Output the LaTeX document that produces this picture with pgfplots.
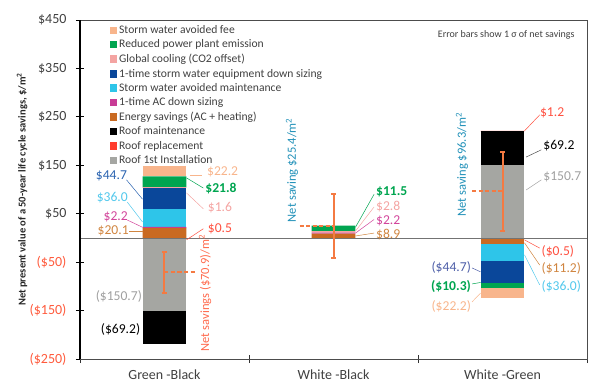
\documentclass[border=0pt]{standalone}
\usepackage{pgfplots}
\pgfplotsset{compat=1.18}
\usepackage{fontspec}
\setmainfont{Carlito}
\definecolor{cfee}{HTML}{F8B58C}
\definecolor{cpower}{HTML}{00A550}
\definecolor{cglobal}{HTML}{F4A4A2}
\definecolor{cequip}{HTML}{0A479A}
\definecolor{cmaint}{HTML}{2EC5E9}
\definecolor{cac}{HTML}{C83C96}
\definecolor{cenergy}{HTML}{C96A22}
\definecolor{croofm}{HTML}{000000}
\definecolor{crepl}{HTML}{FF3C2E}
\definecolor{cinst}{HTML}{A5A6A2}
\definecolor{cerr}{HTML}{F47A42}
\definecolor{tblue}{HTML}{2A63B0}
\definecolor{tcyan}{HTML}{52C8EC}
\definecolor{tmag}{HTML}{D2449A}
\definecolor{tbrown}{HTML}{D08540}
\definecolor{tpeach}{HTML}{F8B58C}
\definecolor{tgreen}{HTML}{00A550}
\definecolor{tpink}{HTML}{F4A4A2}
\definecolor{tred}{HTML}{FF5040}
\definecolor{tgray}{HTML}{A0A0A0}
\definecolor{tslate}{HTML}{4E5FA8}
\definecolor{tteal}{HTML}{2090B8}
\definecolor{tnet}{HTML}{FF6A4D}
\definecolor{negcol}{HTML}{FF5A3C}
\definecolor{poscol}{HTML}{404040}
\newcommand\vl{\fontsize{13.6}{15}\selectfont}
\pgfplotsset{
  base/.style={width=507pt,height=339pt,scale only axis,
    xmin=-0.5,xmax=2.5,ymin=-250,ymax=450,
    at={(0pt,0pt)},anchor=south west},
  segs/.style={base,hide axis,ybar stacked,bar width=0.26},
  seg/.style={fill=#1,draw=none},
  eb/.style={color=cerr,line width=2pt,mark=none},
}
\begin{document}
\begin{tikzpicture}
\path[use as bounding box] (-80pt,-32pt) rectangle (520pt,359pt);
% frame, ticks, legend
\begin{axis}[base,
  axis line style={draw=black!70,line width=0.9pt},
  tick align=center,
  xtick={0,1,2},
  xticklabels={Green -Black,White -Black,White -Green},
  major x tick style={draw=none},
  minor xtick={-0.5,0.5,1.5,2.5},
  minor tick length=8pt,
  minor x tick style={draw=black!80,line width=0.9pt},
  xtick pos=bottom, ytick pos=left,
  ytick={-250,-150,-50,50,150,250,350,450},
  yticklabels={{\color{negcol}(\$250)},{\color{negcol}(\$150)},{\color{negcol}(\$50)},{\color{poscol}\$50},{\color{poscol}\$150},{\color{poscol}\$250},{\color{poscol}\$350},{\color{poscol}\$450}},
  major tick length=8pt,
  major y tick style={draw=black,line width=0.9pt},
  yticklabel style={font=\fontsize{14}{16}\selectfont,xshift=-6pt},
  xticklabel style={font=\fontsize{14}{16}\selectfont,text=poscol,yshift=-3pt},
  /pgf/number format/assume math mode=true,
  legend style={at={(0.052,0.996)},anchor=north west,draw=none,fill=none,
    font=\fontsize{11.6}{13}\selectfont,row sep=0.8pt,text=poscol},
  legend cell align=left,
  legend image code/.code={\fill[#1] (0pt,-3.8pt) rectangle (7.6pt,3.8pt);},
]
\addlegendimage{fill=cfee,draw=none}\addlegendentry{Storm water avoided fee}
\addlegendimage{fill=cpower,draw=none}\addlegendentry{Reduced power plant emission}
\addlegendimage{fill=cglobal,draw=none}\addlegendentry{Global cooling (CO2 offset)}
\addlegendimage{fill=cequip,draw=none}\addlegendentry{1-time storm water equipment down sizing}
\addlegendimage{fill=cmaint,draw=none}\addlegendentry{Storm water avoided maintenance}
\addlegendimage{fill=cac,draw=none}\addlegendentry{1-time AC down sizing}
\addlegendimage{fill=cenergy,draw=none}\addlegendentry{Energy savings (AC + heating)}
\addlegendimage{fill=croofm,draw=none}\addlegendentry{Roof maintenance}
\addlegendimage{fill=crepl,draw=none}\addlegendentry{Roof replacement}
\addlegendimage{fill=cinst,draw=none}\addlegendentry{Roof 1st Installation}
\end{axis}
% positive stacks
\begin{axis}[segs]
\addplot[seg=cinst] coordinates {(0,0) (1,0) (2,150.7)};
\addplot[seg=croofm] coordinates {(0,0) (1,0) (2,69.2)};
\addplot[seg=cenergy] coordinates {(0,20.1) (1,8.9) (2,0)};
\addplot[seg=crepl] coordinates {(0,0.5) (1,0) (2,1.2)};
\addplot[seg=cac] coordinates {(0,2.2) (1,2.2) (2,0)};
\addplot[seg=cmaint] coordinates {(0,36.0) (1,0) (2,0)};
\addplot[seg=cequip] coordinates {(0,44.7) (1,0) (2,0)};
\addplot[seg=cglobal] coordinates {(0,1.6) (1,2.8) (2,0)};
\addplot[seg=cpower] coordinates {(0,21.8) (1,11.5) (2,0)};
\addplot[seg=cfee] coordinates {(0,22.2) (1,0) (2,0)};
\end{axis}
% negative stacks
\begin{axis}[segs]
\addplot[seg=cinst] coordinates {(0,-150.7) (1,0) (2,0)};
\addplot[seg=croofm] coordinates {(0,-69.2) (1,0) (2,0)};
\addplot[seg=crepl] coordinates {(0,0) (1,0) (2,-0.5)};
\addplot[seg=cenergy] coordinates {(0,0) (1,0) (2,-11.2)};
\addplot[seg=cmaint] coordinates {(0,0) (1,0) (2,-36.0)};
\addplot[seg=cequip] coordinates {(0,0) (1,0) (2,-44.7)};
\addplot[seg=cpower] coordinates {(0,0) (1,0) (2,-10.3)};
\addplot[seg=cfee] coordinates {(0,0) (1,0) (2,-22.2)};
\end{axis}
% annotations, error bars
\begin{axis}[base,hide axis,clip=false]
\addplot[color=black!55,line width=0.8pt,mark=none] coordinates {(-0.5,0) (2.5,0)};
% net lines
\addplot[eb,dash pattern=on 4pt off 2.5pt] coordinates {(0,-70.9) (0.19,-70.9)};
\addplot[eb,dash pattern=on 4pt off 2.5pt] coordinates {(0.80,25.4) (1.0,25.4)};
\addplot[eb,dash pattern=on 4pt off 2.5pt] coordinates {(1.82,96.3) (2.0,96.3)};
% error bars (1 sigma)
\addplot[eb] coordinates {(0,-112.9) (0,-28.9)};
\addplot[eb] coordinates {(-0.016,-112.9) (0.016,-112.9)};
\addplot[eb] coordinates {(-0.016,-28.9) (0.016,-28.9)};
\addplot[eb] coordinates {(1,-40.6) (1,91.4)};
\addplot[eb] coordinates {(0.984,-40.6) (1.016,-40.6)};
\addplot[eb] coordinates {(0.984,91.4) (1.016,91.4)};
\addplot[eb] coordinates {(2,14.3) (2,178.3)};
\addplot[eb] coordinates {(1.984,14.3) (2.016,14.3)};
\addplot[eb] coordinates {(1.984,178.3) (2.016,178.3)};
% leader lines Green-Black
\addplot[color=tblue,line width=0.5pt] coordinates {(-0.225,120) (-0.13,80)};
\addplot[color=tcyan,line width=0.5pt] coordinates {(-0.22,74) (-0.13,33)};
\addplot[color=tmag,line width=0.5pt] coordinates {(-0.22,37) (-0.13,22)};
\addplot[color=tbrown,line width=0.5pt] coordinates {(-0.21,14) (-0.13,14)};
\addplot[color=tpeach,line width=0.5pt] coordinates {(0.15,130) (0.22,130)};
\addplot[color=tgreen,line width=0.5pt] coordinates {(0.13,124) (0.23,103)};
\addplot[color=tpink,line width=0.5pt] coordinates {(0.13,93) (0.23,60)};
\addplot[color=tred,line width=0.5pt] coordinates {(0.13,-4) (0.23,19)};
% leader lines White-Black
\addplot[color=tgreen,line width=0.5pt] coordinates {(1.13,22) (1.24,90)};
\addplot[color=tpink,line width=0.5pt] coordinates {(1.13,14) (1.24,64)};
\addplot[color=tmag,line width=0.5pt] coordinates {(1.13,10) (1.24,38)};
\addplot[color=tbrown,line width=0.5pt] coordinates {(1.13,4) (1.24,10)};
% leader lines White-Green
\addplot[color=tred,line width=0.5pt] coordinates {(2.13,221) (2.22,254)};
\addplot[color=black!70,line width=0.5pt] coordinates {(2.14,167) (2.23,182)};
\addplot[color=tgray,line width=0.5pt] coordinates {(2.14,99) (2.23,120)};
\addplot[color=tred,line width=0.5pt] coordinates {(2.13,-4) (2.22,-21)};
\addplot[color=tbrown,line width=0.5pt] coordinates {(2.13,-10) (2.22,-56)};
\addplot[color=tcyan,line width=0.5pt] coordinates {(2.13,-35) (2.22,-97)};
\addplot[color=tslate,line width=0.5pt] coordinates {(1.82,-62) (1.87,-70)};
\addplot[color=tgreen,line width=0.5pt] coordinates {(1.82,-95) (1.87,-92)};
\addplot[color=tpeach,line width=0.5pt] coordinates {(1.82,-132) (1.87,-114)};
% value labels Green-Black
\node[anchor=east,text=tblue,font=\vl,inner sep=1pt] at (axis cs:-0.215,128) {\$44.7};
\node[anchor=east,text=tcyan,font=\vl,inner sep=1pt] at (axis cs:-0.21,83) {\$36.0};
\node[anchor=east,text=tmag,font=\vl,inner sep=1pt] at (axis cs:-0.21,43) {\$2.2};
\node[anchor=east,text=tbrown,font=\vl,inner sep=1pt] at (axis cs:-0.205,14) {\$20.1};
\node[anchor=west,text=tpeach,font=\vl,inner sep=1pt] at (axis cs:0.245,136) {\$22.2};
\node[anchor=west,text=tgreen,font=\vl\bfseries,inner sep=1pt] at (axis cs:0.235,101) {\$21.8};
\node[anchor=west,text=tpink,font=\vl,inner sep=1pt] at (axis cs:0.25,62) {\$1.6};
\node[anchor=west,text=tred,font=\vl,inner sep=1pt] at (axis cs:0.25,19) {\$0.5};
\node[text=tgray,font=\vl] at (axis cs:-0.27,-120) {(\$150.7)};
\node[text=black,font=\vl] at (axis cs:-0.26,-190) {(\$69.2)};
\node[rotate=90,text=tnet,font=\fontsize{12.5}{14}\selectfont] at (axis cs:0.24,-114) {Net savings (\$70.9)/m\textsuperscript{2}};
% White-Black
\node[anchor=west,text=tgreen,font=\vl\bfseries,inner sep=1pt] at (axis cs:1.245,95) {\$11.5};
\node[anchor=west,text=tpink,font=\vl,inner sep=1pt] at (axis cs:1.245,65) {\$2.8};
\node[anchor=west,text=tmag,font=\vl,inner sep=1pt] at (axis cs:1.245,36) {\$2.2};
\node[anchor=west,text=tbrown,font=\vl,inner sep=1pt] at (axis cs:1.245,7) {\$8.9};
\node[rotate=90,text=tteal,font=\fontsize{12.5}{14}\selectfont] at (axis cs:0.754,140) {Net saving \$25.4/m\textsuperscript{2}};
% White-Green
\node[anchor=west,text=tred,font=\vl,inner sep=1pt] at (axis cs:2.215,258) {\$1.2};
\node[anchor=west,text=black,font=\vl,inner sep=1pt] at (axis cs:2.235,190) {\$69.2};
\node[anchor=west,text=tgray,font=\vl,inner sep=1pt] at (axis cs:2.235,126) {\$150.7};
\node[anchor=west,text=tred,font=\vl,inner sep=1pt] at (axis cs:2.225,-27) {(\$0.5)};
\node[anchor=west,text=tbrown,font=\vl,inner sep=1pt] at (axis cs:2.225,-64) {(\$11.2)};
\node[anchor=west,text=tcyan,font=\vl,inner sep=1pt] at (axis cs:2.225,-101) {(\$36.0)};
\node[anchor=east,text=tslate,font=\vl,inner sep=1pt] at (axis cs:1.82,-60) {(\$44.7)};
\node[anchor=east,text=tgreen,font=\vl\bfseries,inner sep=1pt] at (axis cs:1.82,-101) {(\$10.3)};
\node[anchor=east,text=tpeach,font=\vl,inner sep=1pt] at (axis cs:1.82,-142) {(\$22.2)};
\node[rotate=90,text=tteal,font=\fontsize{12.5}{14}\selectfont] at (axis cs:1.76,151) {Net saving \$96.3/m\textsuperscript{2}};
\node[anchor=east,text=poscol,font=\fontsize{10}{12}\selectfont] at (axis cs:2.447,419) {Error bars show 1 σ of net savings};
\end{axis}
\node[rotate=90,font=\fontsize{10.5}{12}\selectfont\bfseries,text=black!85] at (-58pt,169.5pt) {Net present value of a 50-year life cycle savings, \$/m\textsuperscript{2}};
\draw[black,line width=1.2pt] (0pt,0pt) -- (0pt,339pt);
\end{tikzpicture}
\end{document}
